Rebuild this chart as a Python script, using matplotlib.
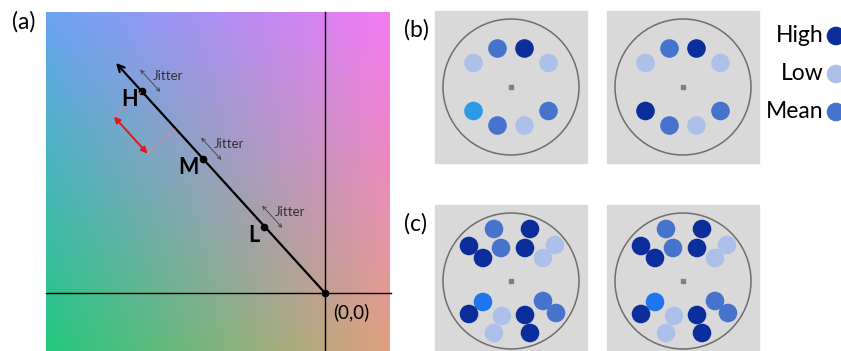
import numpy as np
import matplotlib
matplotlib.use('Agg')
import matplotlib.pyplot as plt
from matplotlib.patches import Circle, Rectangle

plt.rcParams['font.family'] = ['Lato', 'DejaVu Sans']

# ---- panel (a): colour plane with the L/M/H axis ----
corner_colors = {  # rgb of the colour plane corners
    'top_left': (106, 164, 244),
    'top_right': (244, 122, 242),
    'bottom_left': (34, 200, 124),
    'bottom_right': (224, 160, 126),
}
level_names = ['L', 'M', 'H']
level_x = [-61, -122, -183]   # offsets from the (0,0) point, y up
level_y = [66, 134, 202]
axis_tip = (-209, 230)

# ---- panels (b) and (c): stimulus displays ----
dot_colors = {
    'High': '#0b2e9c',
    'Low': '#adc0ea',
    'Mean': '#4673cb',
    'Probe_b': '#2b9be8',
    'Probe_c': '#1f76ee',
}
legend_levels = ['High', 'Low', 'Mean']

b_dx = [-13.5, 13.5, -37.5, 37.5, -37.5, 37.5, -13.5, 13.5]
b_dy = [-38.5, -38.5, -24, -24, 24, 24, 38.5, 38.5]
b_left = ['Mean', 'High', 'Low', 'Low', 'Probe_b', 'Mean', 'Mean', 'Low']
b_right = ['Mean', 'High', 'Low', 'Low', 'High', 'Mean', 'Mean', 'Low']

c_dx = [-17, 19, -42, -10, 14, 44, -28, 32, -28, 32, -42, -9, 14, 45, -17, 19]
c_dy = [-52, -52, -35, -33, -33, -36, -23, -23, 21, 20, 33, 35, 34, 32, 52, 52]
c_left = ['Mean', 'High', 'High', 'Mean', 'High', 'Low', 'High', 'Low',
          'Probe_c', 'Mean', 'High', 'Low', 'High', 'Mean', 'Low', 'High']
c_right = list(c_left)

W, H = 841, 351
fig = plt.figure(figsize=(W / 100, H / 100), dpi=100)
ax = fig.add_axes([0, 0, 1, 1])

# colour plane (bilinear blend of the four corners)
ox, oy = 325, 293
x0, x1, y0, y1 = 46, 390, 12, 351
u = np.linspace(0, 1, 200)[None, :, None]
v = np.linspace(0, 1, 200)[:, None, None]
tl = np.array(corner_colors['top_left']) / 255
tr = np.array(corner_colors['top_right']) / 255
bl = np.array(corner_colors['bottom_left']) / 255
br = np.array(corner_colors['bottom_right']) / 255
grad = (1 - v) * ((1 - u) * tl + u * tr) + v * ((1 - u) * bl + u * br)
ax.imshow(grad, extent=(x0, x1, y1, y0), origin='upper', interpolation='bilinear')

# axes through (0,0)
ax.plot([x0, x1 + 1], [oy, oy], color='black', lw=1.0)
ax.plot([ox, ox], [y0, H], color='black', lw=1.0)
ax.annotate('', xy=(ox + axis_tip[0], oy - axis_tip[1]), xytext=(ox, oy),
            arrowprops=dict(arrowstyle='->', color='black', lw=1.6,
                            shrinkA=0, shrinkB=0, mutation_scale=12))
ax.plot([ox], [oy], 'o', color='black', ms=4.5)
ax.text(ox + 8, oy + 19, '(0,0)', fontsize=13.5, ha='left', va='center')

# unit vectors along and across the axis (pixel space, y down)
d = np.array([axis_tip[0], -axis_tip[1]], dtype=float)
d /= np.hypot(*d)
n = np.array([-d[1], d[0]])  # perpendicular, pointing up-right

for name, lx, ly in zip(level_names, level_x, level_y):
    px, py = ox + lx, oy - ly
    ax.plot([px], [py], 'o', color='black', ms=4.5)
    ax.text(px - 4, py + 8, name, fontsize=15.5, fontweight='bold',
            ha='right', va='center')
    c = np.array([px, py]) + 13 * n + 2 * d
    a0, a1 = c - 15 * d, c + 15 * d
    ax.annotate('', xy=a0, xytext=a1,
                arrowprops=dict(arrowstyle='<->', color='#404040', lw=0.6,
                                shrinkA=0, shrinkB=0, mutation_scale=6))
    ax.text(px + 11, py - 15, 'Jitter', fontsize=9.5, color='#303030',
            ha='left', va='center')

# step-size bracket next to H
h = np.array([ox + level_x[2], oy - level_y[2]], dtype=float)
foot1 = h
foot2 = h - 50 * d
r0, r1 = foot1 - 38 * n, foot2 - 38 * n
for f, r in [(foot1, r0), (foot2, r1)]:
    ax.plot([f[0], r[0]], [f[1], r[1]], color='#d88a98', lw=0.7)
ax.annotate('', xy=r0, xytext=r1,
            arrowprops=dict(arrowstyle='<|-|>', color='#e8141c', lw=1.4,
                            shrinkA=0, shrinkB=0, mutation_scale=9))

# stimulus displays
def draw_display(cx, cy, dx, dy, levels, top, bottom=None):
    left = cx - 76
    bottom = bottom if bottom is not None else top + 152
    ax.add_patch(Rectangle((left, top), 152, bottom - top, color='#d9d9d9', zorder=1))
    ax.add_patch(Circle((cx, cy), 68, fill=False, ec='#6e6e6e', lw=1.1, zorder=2))
    ax.add_patch(Rectangle((cx - 1.7, cy - 1.7), 3.4, 3.4, color='#808080', zorder=2))
    for ddx, ddy, lev in zip(dx, dy, levels):
        ax.add_patch(Circle((cx + ddx, cy + ddy), 8.6, color=dot_colors[lev], zorder=3))

draw_display(511, 87, b_dx, b_dy, b_left, 11)
draw_display(683, 87, b_dx, b_dy, b_right, 11)
draw_display(511, 281, c_dx, c_dy, c_left, 205, 360)
draw_display(683, 281, c_dx, c_dy, c_right, 205, 360)

# legend
for i, lev in enumerate(legend_levels):
    y = 36 + 38 * i
    ax.text(824, y, lev, fontsize=16.5, ha='right', va='center')
    ax.add_patch(Circle((836, y), 8.6, color=dot_colors[lev], zorder=3))

# panel labels
ax.text(12, 22, '(a)', fontsize=16.5, ha='left', va='center')
ax.text(404, 30, '(b)', fontsize=16.5, ha='left', va='center')
ax.text(404, 224, '(c)', fontsize=16.5, ha='left', va='center')

ax.set_xlim(0, W)
ax.set_ylim(H, 0)
ax.axis('off')

fig.savefig('out.png', dpi=100)
